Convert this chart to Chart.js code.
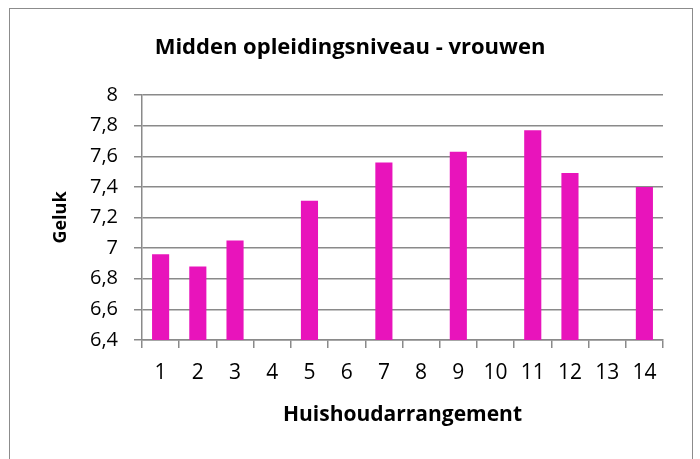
<!DOCTYPE html>
<html>
<head>
<meta charset="utf-8">
<script src="https://cdn.jsdelivr.net/npm/chart.js@4"></script>
<style>
  html, body { margin: 0; padding: 0; background: #fff; }
  #wrap { position: relative; width: 700px; height: 459px; overflow: hidden; }
  #frame { position: absolute; left: 9px; top: 8px; width: 682px; height: 470px; border: 1px solid #8c8c8c; }
  canvas { position: absolute; left: 0; top: 0; }
</style>
</head>
<body>
<div id="wrap">
  <div id="frame"></div>
  <canvas id="geluk" width="700" height="459"></canvas>
</div>
<script>
// categories (huishoudarrangement) and mean happiness
const categories = ["1", "2", "3", "4", "5", "6", "7", "8", "9", "10", "11", "12", "13", "14"];
const gelukValues = [6.96, 6.88, 7.05, null, 7.31, null, 7.56, null, 7.63, null, 7.77, 7.49, null, 7.40];

const chartTitle = "Midden opleidingsniveau - vrouwen";
const xTitle = "Huishoudarrangement";
const yTitle = "Geluk";

const fontFamily = "'Open Sans', 'Liberation Sans', sans-serif";
const gridColor = "#8a8a8a";

const ctx = document.getElementById("geluk").getContext("2d");

new Chart(ctx, {
  type: "bar",
  data: {
    labels: categories,
    datasets: [
      {
        label: yTitle,
        data: gelukValues,
        backgroundColor: "#e814bb",
        borderWidth: 0,
        barPercentage: 0.46,
        categoryPercentage: 1,
      },
    ],
  },
  options: {
    responsive: false,
    animation: false,
    layout: { padding: 0 },
    plugins: {
      legend: { display: false },
      tooltip: { enabled: false },
      title: {
        display: true,
        text: chartTitle,
        color: "#000",
        font: { family: fontFamily, size: 22, weight: "bold", lineHeight: 1.2 },
        padding: { top: 35, bottom: 33.6 },
      },
    },
    scales: {
      x: {
        grid: {
          display: true,
          offset: true,
          drawOnChartArea: false,
          drawTicks: true,
          tickLength: 8,
          color: gridColor,
          lineWidth: 1.5,
        },
        border: { display: true, color: gridColor, width: 1.5 },
        ticks: {
          color: "#000",
          padding: 12,
          maxRotation: 0,
          autoSkip: false,
          font: { family: fontFamily, size: 21 },
        },
        title: {
          display: true,
          text: xTitle,
          color: "#000",
          font: { family: fontFamily, size: 21, weight: "bold", lineHeight: 1.2 },
          padding: { top: 0, bottom: 31 },
        },
        afterFit: (scale) => { scale.height = 119; },
      },
      y: {
        min: 6.4,
        max: 8,
        grid: {
          color: gridColor,
          lineWidth: 1.5,
          drawTicks: true,
          tickLength: 8,
        },
        border: { display: true, color: gridColor, width: 1.5 },
        ticks: {
          stepSize: 0.2,
          color: "#000",
          padding: 16,
          font: { family: fontFamily, size: 20 },
          callback: (value) => Number(value.toFixed(1)).toString().replace(".", ","),
        },
        title: {
          display: true,
          text: yTitle,
          color: "#000",
          font: { family: fontFamily, size: 18, weight: "bold", lineHeight: 1.2 },
          padding: { top: 50, bottom: 0 },
        },
        afterFit: (scale) => { scale.width = 142; },
      },
      // empty right-hand axis, only keeps the plot clear of the right edge
      yRight: {
        position: "right",
        min: 6.4,
        max: 8,
        grid: { display: false },
        border: { display: false },
        ticks: { display: false },
        afterFit: (scale) => { scale.width = 37; },
      },
    },
  },
});
</script>
</body>
</html>
